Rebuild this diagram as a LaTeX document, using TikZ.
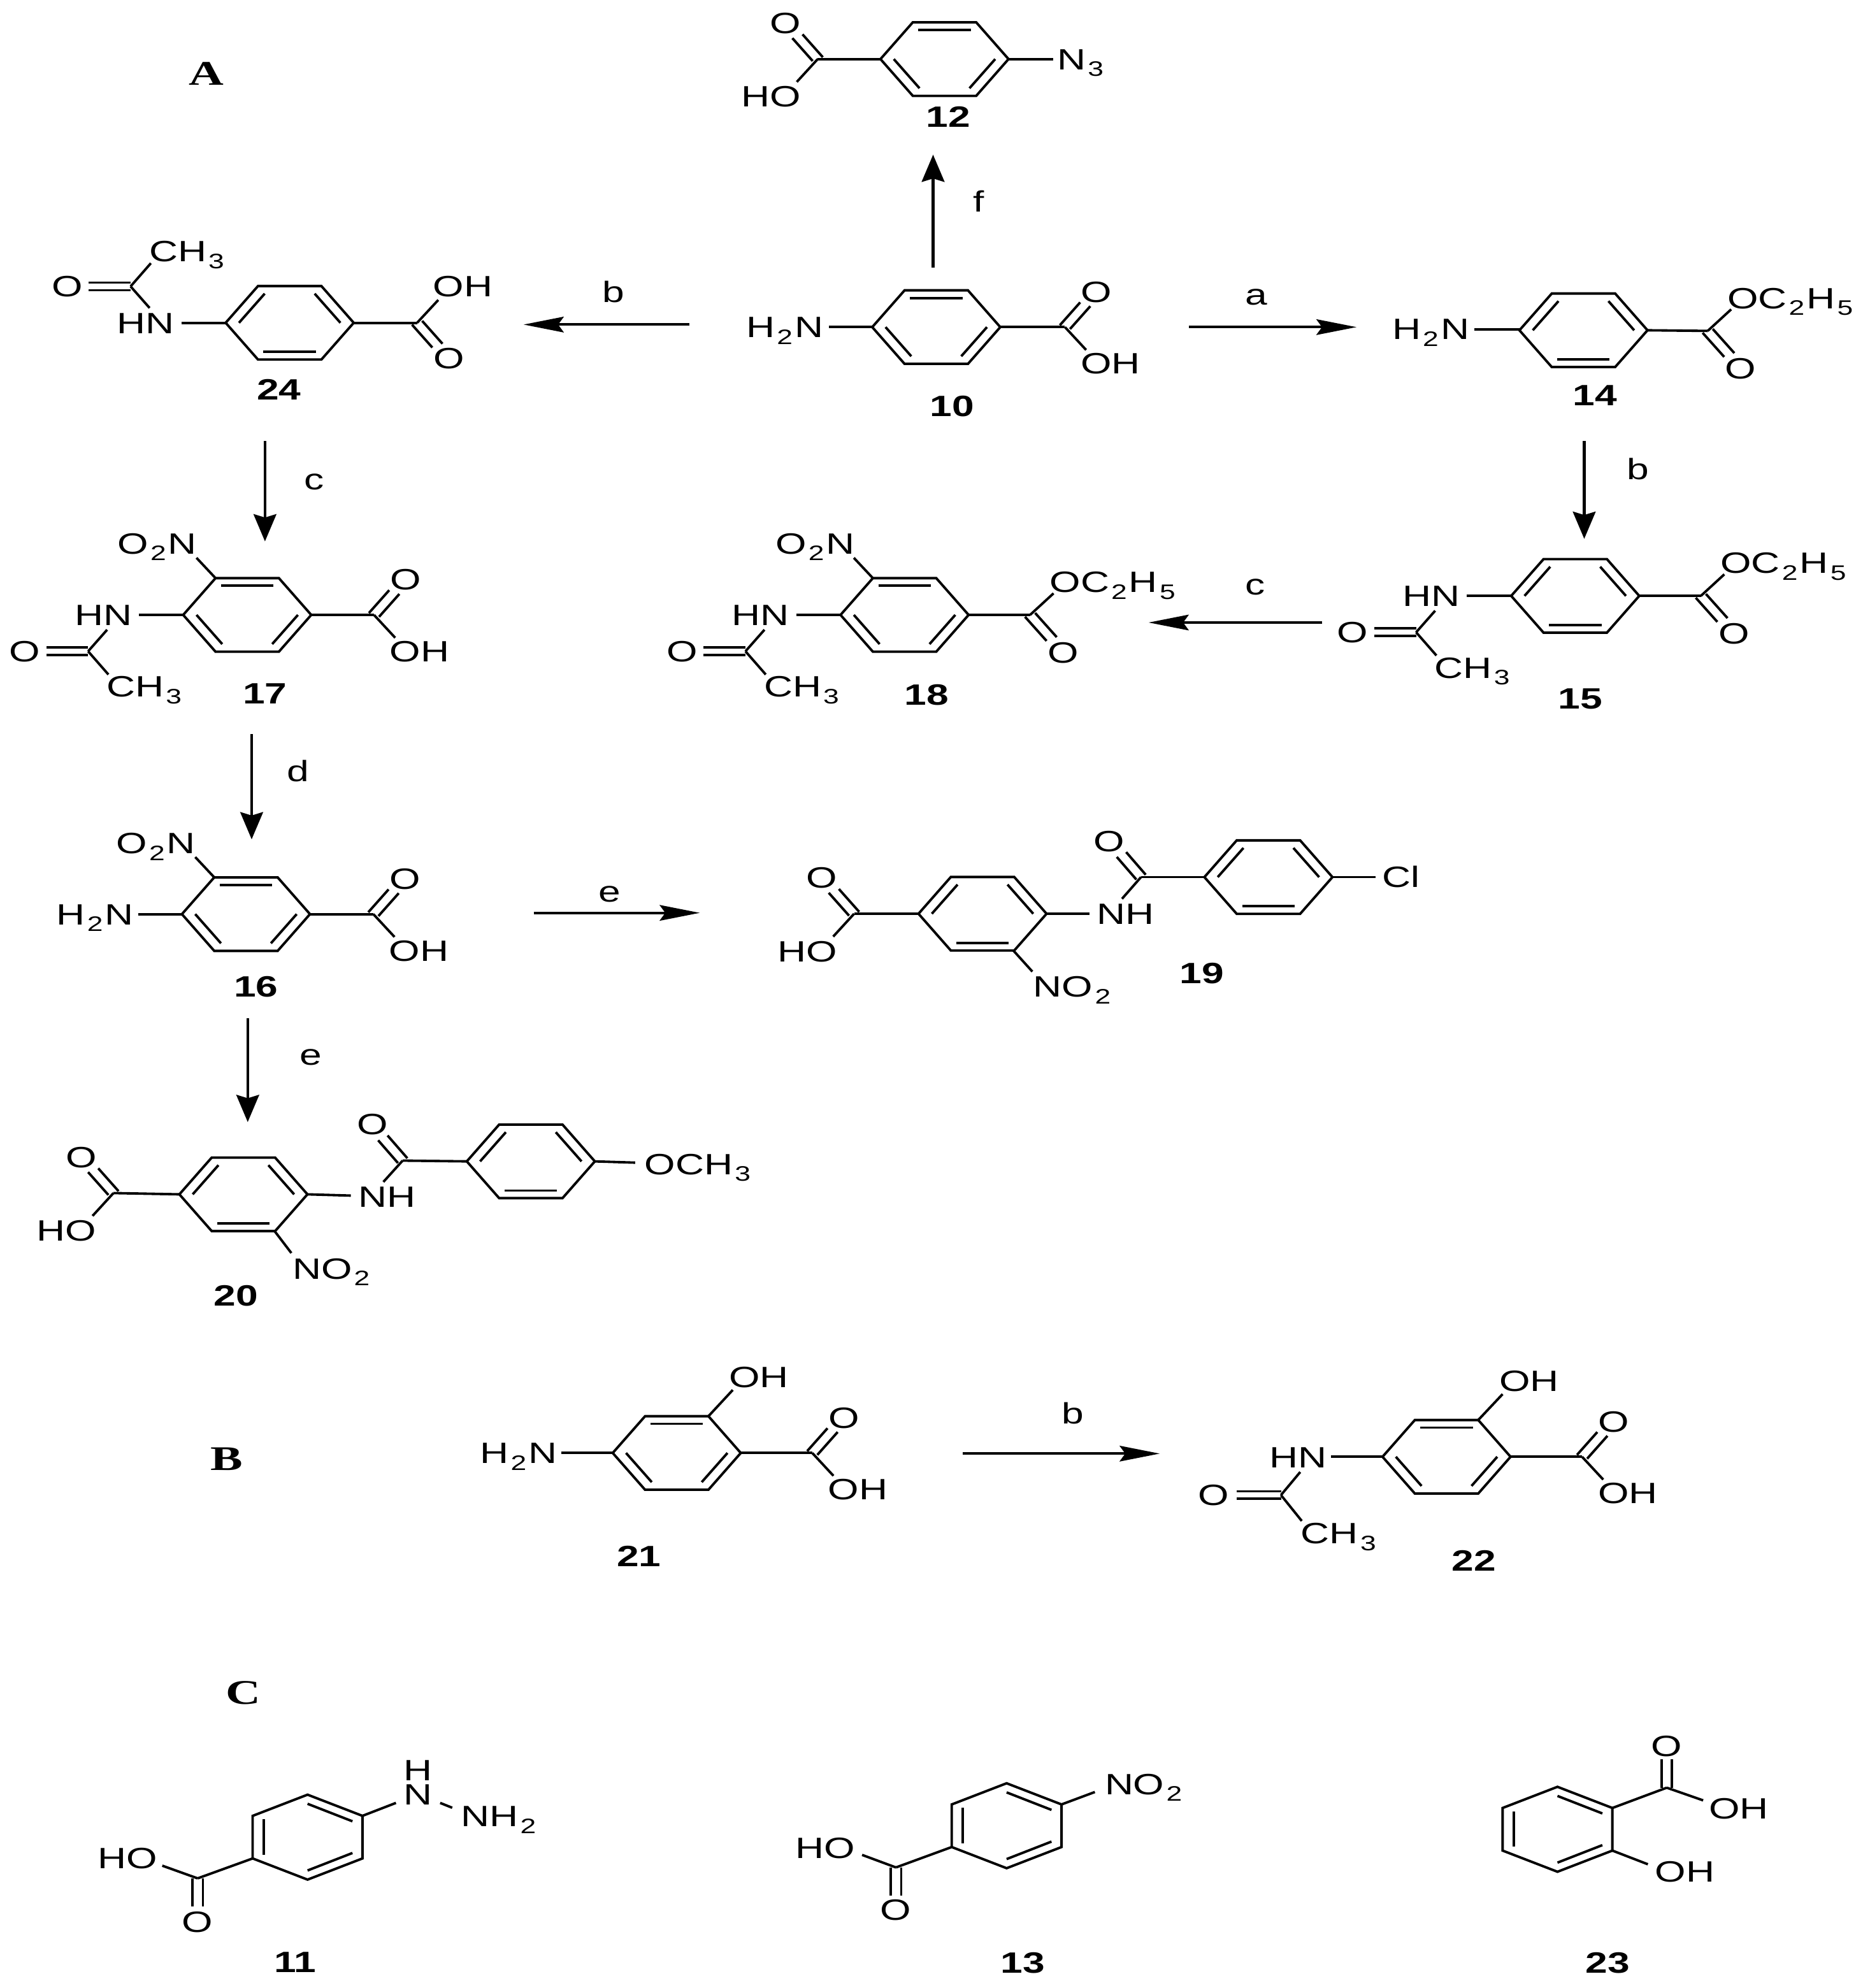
\documentclass[tikz,border=0pt]{standalone}
\usepackage{fontspec}
\usetikzlibrary{arrows.meta}
\newfontfamily\labf[FakeStretch=1.35]{Liberation Sans}
\newfontfamily\capf[FakeStretch=1.4]{Liberation Serif}
\newcommand\sbs[1]{\kern0.9pt\raisebox{-3.1pt}{\fontsize{9.4pt}{10pt}\selectfont #1}\kern0.9pt}
\newcounter{atomc}
\tikzset{
  bond/.style={line width=1.1pt,line cap=butt,line join=miter},
  atomlab/.style={inner sep=0pt,outer sep=0pt,font=\labf\fontsize{13.2pt}{10.8pt}\selectfont},
  numlab/.style={inner sep=0pt,outer sep=0pt,font=\labf\bfseries\fontsize{13.2pt}{14pt}\selectfont},
  panellab/.style={inner sep=0pt,outer sep=0pt,font=\capf\bfseries\fontsize{15.5pt}{16pt}\selectfont},
  harrow/.style={line width=1.2pt,-{Stealth[length=18pt,width=7pt,inset=2.5pt]}},
  varrow/.style={line width=1.2pt,-{Stealth[length=12.2pt,width=10.2pt,inset=1.5pt]}}
}
% atom text centred on its capitals
\newcommand\atm[3]{\stepcounter{atomc}\node[atomlab,anchor=base] (atom\arabic{atomc}) at ([yshift=-4.7pt]#1,#2) {#3};}
\newcommand\atw[3]{\stepcounter{atomc}\node[atomlab,anchor=base west] (atom\arabic{atomc}) at ([yshift=-4.7pt]#1,#2) {#3};}
\newcommand\num[4]{\node[numlab,anchor=base] (#1) at ([yshift=-4.7pt]#2,#3) {#4};}
\newcommand\bnd[4]{\draw[bond] (#1,#2) -- (#3,#4);}
\newcommand\dbl[6]{\draw[bond] ([shift={(#5,#6)}]#1,#2) -- ([shift={(#5,#6)}]#3,#4);
  \draw[bond] ([shift={({-1*(#5)},{-1*(#6)})}]#1,#2) -- ([shift={({-1*(#5)},{-1*(#6)})}]#3,#4);}
\newcommand\hexout{\draw[bond] (-50.5,0) -- (-25,-29) -- (25,-29) -- (50.5,0) -- (25,29) -- (-25,29) -- cycle;}
% flat ring, inner lines at top, lower left, lower right
\newcommand\ringA[2]{\begin{scope}[shift={(#1,#2)}]\hexout
  \draw[bond] (-20.7,-23) -- (20.7,-23);
  \draw[bond] (-40,0) -- (-19.7,23);
  \draw[bond] (40,0) -- (19.7,23);\end{scope}}
% flat ring, inner lines at upper left, upper right, bottom
\newcommand\ringB[2]{\begin{scope}[shift={(#1,#2)}]\hexout
  \draw[bond] (-20.7,23) -- (20.7,23);
  \draw[bond] (-40,0) -- (-19.7,-23);
  \draw[bond] (40,0) -- (19.7,-23);\end{scope}}
% pointed ring
\newcommand\ringP[2]{\begin{scope}[shift={(#1,#2)}]
  \draw[bond] (0,-33.5) -- (43.3,-16.8) -- (43.3,16.8) -- (0,33.5) -- (-43.3,16.8) -- (-43.3,-16.8) -- cycle;
  \draw[bond] (0,-26.3) -- (35.4,-12.5);
  \draw[bond] (-34.6,-14) -- (-34.6,13.7);
  \draw[bond] (0,26.3) -- (35.4,12.5);\end{scope}}
\newcommand\coohUR[2]{\begin{scope}[shift={(#1,#2)}]
  \dbl{0}{0}{16}{-18}{4}{1.5}\bnd{0}{0}{16.7}{18}
  \atm{25}{-28}{O}\atm{36}{28.7}{OH}\end{scope}}
\newcommand\coohDR[2]{\begin{scope}[shift={(#1,#2)}]
  \dbl{0}{0}{16}{18}{4}{-1.5}\bnd{0}{0}{16.7}{-18}
  \atm{25}{28}{O}\atm{36}{-28.7}{OH}\end{scope}}
\newcommand\coohUL[2]{\begin{scope}[shift={(#1,#2)}]
  \dbl{0}{0}{-16}{-18}{4}{-1.5}\bnd{0}{0}{-16.5}{18}
  \atm{-25.5}{-28.5}{O}\atm{-37}{29.5}{HO}\end{scope}}
\newcommand\esterUR[2]{\begin{scope}[shift={(#1,#2)}]
  \dbl{0}{0}{17}{19}{4}{-1.5}\bnd{0}{0}{18.5}{-17}
  \atm{26}{29.5}{O}\atw{15.5}{-26}{OC\sbs{2}H\sbs{5}}\end{scope}}
% acetamide hanging from ring vertex (x,y), pointing down
\newcommand\acDown[2]{\begin{scope}[shift={(#1,#2)}]
  \atm{-63}{0}{HN}\bnd{-35}{0}{0}{0}
  \bnd{-75}{28.7}{-60}{11.7}\bnd{-75}{28.7}{-59}{47}
  \dbl{-75}{28.7}{-108}{28.7}{0}{3}
  \atm{-125}{28.7}{O}\atm{-30}{56.5}{CH\sbs{3}}\end{scope}}
\newcommand\acUp[2]{\begin{scope}[shift={(#1,#2)}]
  \atm{-63}{0}{HN}\bnd{-35}{0}{0}{0}
  \bnd{-75}{-28.7}{-60}{-11.7}\bnd{-75}{-28.7}{-59}{-47}
  \dbl{-75}{-28.7}{-108}{-28.7}{0}{3}
  \atm{-125}{-28.7}{O}\atm{-30}{-56.5}{CH\sbs{3}}\end{scope}}
\newcommand\rxn[6]{\coordinate (#1s) at (#2,#3);\coordinate (#1e) at (#4,#5);\draw[#6] (#1s) -- (#1e);}
\begin{document}
\begin{tikzpicture}[x=0.02cm,y=-0.02cm]
\useasboundingbox (0,0) rectangle (1475,1568);
% panel letters
\node[panellab] (panelA) at (163,58) {A};
\node[panellab] (panelB) at (179,1151) {B};
\node[panellab] (panelC) at (192,1335) {C};
% 12
\ringA{745}{46.6}\bnd{694.5}{46.6}{645}{46.6}\coohUL{645}{46.6}
\bnd{795.5}{46.6}{830.5}{46.6}\atm{853}{46.6}{N\sbs{3}}
\num{n12}{748}{92}{12}
% 10
\ringA{738.5}{258}\bnd{789}{258}{840}{258}\coohUR{840}{258}
\bnd{654}{258}{688}{258}\atm{619}{258}{H\sbs{2}N}
\num{n10}{751}{320}{10}
% 14
\ringB{1249}{260.5}\bnd{1299.5}{260.5}{1347}{261}\esterUR{1347}{261}
\bnd{1163}{260}{1198.5}{260}\atm{1128.5}{259.5}{H\sbs{2}N}
\num{n14}{1258}{311.6}{14}
% 15
\ringB{1242.5}{470}\bnd{1293}{470}{1341.6}{470}\esterUR{1341.6}{470}
\acDown{1192}{470}
\num{n15}{1246.6}{551}{15}
% 24
\ringB{228.5}{254.6}\bnd{279}{254.6}{329}{254.6}\coohDR{329}{254.6}
\acUp{178}{254.6}
\num{n24}{220}{307}{24}
% 17
\ringA{195}{485}\bnd{245.5}{485}{295}{485}\coohUR{295}{485}
\acDown{144.5}{485}
\bnd{170}{456}{155}{440}\atm{124}{428.5}{O\sbs{2}N}
\num{n17}{209}{547}{17}
% 18
\ringA{713.5}{485}\bnd{764}{485}{812.5}{485}\esterUR{812.5}{485}
\acDown{663}{485}
\bnd{688.5}{456}{673.5}{440}\atm{643}{428.5}{O\sbs{2}N}
\num{n18}{731}{548}{18}
% 16
\ringA{194}{721}\bnd{244.5}{721}{294.5}{721}\coohUR{294.5}{721}
\bnd{109}{721}{143.5}{721}\atm{75}{721}{H\sbs{2}N}
\bnd{169}{692}{154}{676}\atm{123}{665}{O\sbs{2}N}
\num{n16}{202}{778}{16}
% 19
\ringB{775}{720.7}\bnd{724.5}{720.7}{673.7}{720.7}\coohUL{673.7}{720.7}
\bnd{825.5}{720.7}{859.5}{720.7}\atm{888}{720.7}{NH}
\bnd{900}{691.8}{885}{708.9}\dbl{900}{691.8}{884.6}{674}{3.7}{-1.9}\atm{874.7}{663.3}{O}
\bnd{900}{691.8}{950}{691.8}
\ringB{1000.5}{691.8}\bnd{1051}{691.8}{1085}{691.8}\atm{1105}{691.8}{Cl}
\bnd{799.3}{749.7}{814.3}{766.3}\atm{846.4}{778}{NO\sbs{2}}
\num{n19}{948}{767.5}{19}
% 20
\ringB{192}{942}\bnd{141.5}{942}{89.5}{941}\coohUL{89.5}{941}
\bnd{242.5}{942}{276.7}{943}\atm{305.3}{943.6}{NH}
\bnd{317.6}{915.4}{302.4}{932.2}\dbl{317.6}{915.4}{302}{897.5}{3.7}{-1.9}\atm{293.7}{886.5}{O}
\bnd{317.6}{915.4}{368.2}{916}
\ringB{418.7}{916}\bnd{469.2}{916}{501}{917}\atm{551}{918}{OCH\sbs{3}}
\bnd{216.6}{971}{229.8}{988.3}\atm{262}{1000.4}{NO\sbs{2}}
\num{n20}{186}{1021.5}{20}
% 21
\ringA{533.8}{1146}\bnd{584.3}{1146}{640.7}{1146}\coohUR{640.7}{1146}
\bnd{442.8}{1146}{483.3}{1146}\atm{409}{1146}{H\sbs{2}N}
\bnd{558.8}{1117}{578}{1096.3}\atm{598.5}{1086.2}{OH}
\num{n21}{504}{1227.4}{21}
% 22
\ringA{1141}{1149}\bnd{1191.5}{1149}{1247.9}{1149}\coohUR{1247.9}{1149}
\bnd{1050}{1149}{1090.5}{1149}\atm{1024}{1149.6}{HN}
\bnd{1010.4}{1179.2}{1025.6}{1161}\bnd{1010.4}{1179.2}{1026.8}{1199.6}
\dbl{1010.4}{1179.2}{975.7}{1179.2}{0}{3}\atm{957.4}{1179.2}{O}
\atm{1056.6}{1209.4}{CH\sbs{3}}
\bnd{1166}{1120}{1185.2}{1099.6}\atm{1206}{1089.3}{OH}
\num{n22}{1162.7}{1230.8}{22}
% 11
\ringP{242.6}{1449}
\bnd{199.3}{1465.8}{155.9}{1481.5}\bnd{155.9}{1481.5}{128}{1471.5}\atm{100.5}{1465.6}{HO}
\dbl{155.9}{1481.5}{155.9}{1503.8}{4.2}{0}\atm{155.9}{1515.5}{O}
\bnd{285.9}{1432.2}{312.3}{1422}\node[atomlab,align=center] (atomNH) at (329.7,1405.9) {H\\N};
\bnd{347.2}{1422}{356.7}{1425.8}\atm{394}{1432.5}{NH\sbs{2}}
\num{n11}{232.8}{1547.4}{11}
% 13
\ringP{794}{1440}
\bnd{750.7}{1456.8}{706.7}{1472.9}\bnd{706.7}{1472.9}{680}{1463}\atm{651}{1457.3}{HO}
\dbl{706.7}{1472.9}{706.7}{1495}{4.2}{0}\atm{706.7}{1506.2}{O}
\bnd{837.3}{1423.2}{863.6}{1413.4}\atm{902.7}{1407}{NO\sbs{2}}
\num{n13}{806.7}{1547.8}{13}
% 23
\ringP{1228.5}{1442.8}
\bnd{1271.8}{1426}{1314.7}{1410}\bnd{1314.7}{1410}{1343.4}{1420}\atm{1371.6}{1426.3}{OH}
\dbl{1314.7}{1410}{1314.7}{1387.8}{4.2}{0}\atm{1314.7}{1376.9}{O}
\bnd{1271.8}{1459.6}{1299.8}{1470.4}\atm{1329}{1476.2}{OH}
\num{n23}{1268}{1547.8}{23}
% reaction arrows and letters
\rxn{rf}{736}{211}{736}{122}{varrow}\atm{772}{159}{f}
\rxn{ra}{938}{258}{1070}{258}{harrow}\atm{991}{232}{a}
\rxn{rb}{544}{256}{413}{256}{harrow}\atm{484}{230}{b}
\rxn{rbb}{1249.6}{348}{1249.6}{425}{varrow}\atm{1292}{370}{b}
\rxn{rc}{209}{348}{209}{427}{varrow}\atm{248}{378}{c}
\rxn{rcc}{1043}{491}{906}{491}{harrow}\atm{990}{461}{c}
\rxn{rd}{198.5}{579}{198.5}{662}{varrow}\atm{235}{608}{d}
\rxn{re}{421}{720}{552}{720}{harrow}\atm{481}{703}{e}
\rxn{ree}{195.4}{803}{195.4}{885}{varrow}\atm{245}{832}{e}
\rxn{rbc}{759.5}{1146.5}{914.8}{1146.5}{harrow}\atm{846}{1114.7}{b}
\end{tikzpicture}
\end{document}
